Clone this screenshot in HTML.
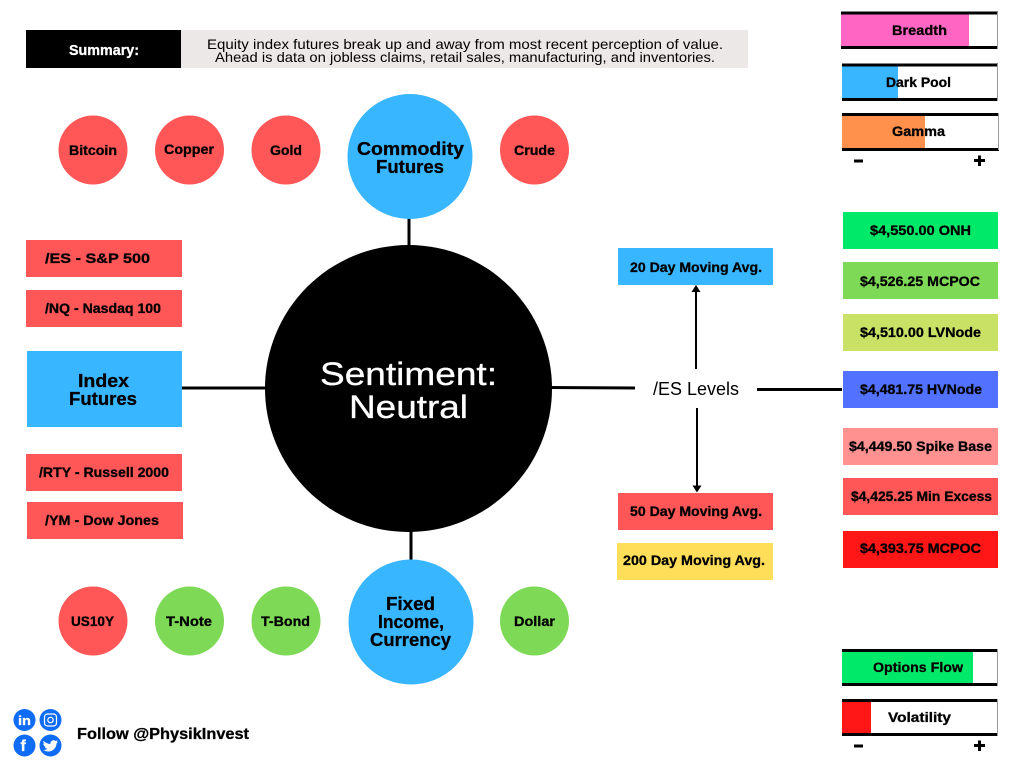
<!DOCTYPE html>
<html><head><meta charset="utf-8"><style>
html,body{margin:0;padding:0;background:#fff}
svg{display:block}
text{font-family:"Liberation Sans",sans-serif;font-weight:700;fill:#000;stroke:#000;stroke-width:.3px}
text.r{font-weight:400;stroke:none}
text.w{fill:#fff;stroke:#fff}
</style></head><body>
<svg width="1024" height="768" viewBox="0 0 1024 768" xmlns="http://www.w3.org/2000/svg">
<rect width="1024" height="768" fill="#fff"/>
<!-- summary -->
<rect x="26" y="30" width="156" height="38" fill="#000"/>
<rect x="181" y="30" width="567" height="38" fill="#ede8e8"/>
<text class="w" x="69" y="55" font-size="14.5" textLength="70" lengthAdjust="spacingAndGlyphs">Summary:</text>
<text class="r" x="207" y="49" font-size="14" textLength="516" lengthAdjust="spacingAndGlyphs">Equity index futures break up and away from most recent perception of value.</text>
<text class="r" x="215" y="62" font-size="14" textLength="500" lengthAdjust="spacingAndGlyphs">Ahead is data on jobless claims, retail sales, manufacturing, and inventories.</text>
<!-- connectors -->
<g stroke="#000" stroke-width="3" fill="none">
<line x1="409" y1="215" x2="409" y2="250"/>
<line x1="411" y1="530" x2="411" y2="565"/>
<line x1="182" y1="388" x2="270" y2="388"/>
<line x1="548" y1="387.500" x2="635" y2="388"/>
<line x1="757" y1="389.500" x2="842" y2="389.500"/>
</g>
<g stroke="#000" stroke-width="2">
<line x1="696" y1="290" x2="696" y2="369"/>
<line x1="697" y1="408" x2="697" y2="487"/>
</g>
<path d="M696 285l4.500 7h-9z"/>
<path d="M697 492.500l-4.500-7h9z"/>
<!-- circles -->
<circle cx="408.500" cy="388.500" r="143.500" fill="#000"/>
<circle cx="410" cy="156.500" r="62.500" fill="#38b6ff"/>
<circle cx="411" cy="622" r="62.500" fill="#38b6ff"/>
<g fill="#ff5757">
<circle cx="93" cy="150" r="34.500"/>
<circle cx="189.500" cy="150" r="34.500"/>
<circle cx="286" cy="150" r="34.500"/>
<circle cx="534.500" cy="150" r="34.500"/>
<circle cx="93" cy="621" r="34.500"/>
</g>
<g fill="#7ed957">
<circle cx="189.500" cy="621" r="34.500"/>
<circle cx="286" cy="621" r="34.500"/>
<circle cx="534.500" cy="621" r="34.500"/>
</g>
<text class="r w" x="320" y="385" font-size="32" textLength="177" lengthAdjust="spacingAndGlyphs">Sentiment:</text>
<text class="r w" x="349" y="418" font-size="32" textLength="119" lengthAdjust="spacingAndGlyphs">Neutral</text>
<text x="357" y="155" font-size="18.500" textLength="107" lengthAdjust="spacingAndGlyphs">Commodity</text>
<text x="376" y="173" font-size="18.500" textLength="68" lengthAdjust="spacingAndGlyphs">Futures</text>
<text x="386" y="610" font-size="18.500" textLength="49" lengthAdjust="spacingAndGlyphs">Fixed</text>
<text x="378" y="628" font-size="18.500" textLength="66" lengthAdjust="spacingAndGlyphs">Income,</text>
<text x="370" y="646" font-size="18.500" textLength="81" lengthAdjust="spacingAndGlyphs">Currency</text>
<g font-size="14">
<text x="69" y="155" textLength="48" lengthAdjust="spacingAndGlyphs">Bitcoin</text>
<text x="164" y="154" textLength="50" lengthAdjust="spacingAndGlyphs">Copper</text>
<text x="270" y="155" textLength="32" lengthAdjust="spacingAndGlyphs">Gold</text>
<text x="514" y="155" textLength="41" lengthAdjust="spacingAndGlyphs">Crude</text>
<text x="71" y="626" textLength="43" lengthAdjust="spacingAndGlyphs">US10Y</text>
<text x="166" y="626" textLength="46" lengthAdjust="spacingAndGlyphs">T-Note</text>
<text x="261" y="626" textLength="49" lengthAdjust="spacingAndGlyphs">T-Bond</text>
<text x="514" y="626" textLength="41" lengthAdjust="spacingAndGlyphs">Dollar</text>
</g>
<!-- left boxes -->
<g fill="#ff5757">
<rect x="26" y="240" width="156" height="37"/>
<rect x="26" y="290" width="156" height="37"/>
<rect x="26" y="454" width="156" height="37"/>
<rect x="27" y="502" width="156" height="37"/>
</g>
<rect x="27" y="351" width="155" height="76" fill="#38b6ff"/>
<text x="78" y="387" font-size="18.500" textLength="51" lengthAdjust="spacingAndGlyphs">Index</text>
<text x="69" y="405" font-size="18.500" textLength="68" lengthAdjust="spacingAndGlyphs">Futures</text>
<g font-size="14">
<text x="45" y="263" textLength="105" lengthAdjust="spacingAndGlyphs">/ES - S&amp;P 500</text>
<text x="45" y="313" textLength="116" lengthAdjust="spacingAndGlyphs">/NQ - Nasdaq 100</text>
<text x="39" y="477" textLength="130" lengthAdjust="spacingAndGlyphs">/RTY - Russell 2000</text>
<text x="45" y="525" textLength="114" lengthAdjust="spacingAndGlyphs">/YM - Dow Jones</text>
</g>
<!-- ES levels -->
<text class="r" x="653" y="395" font-size="18" textLength="86" lengthAdjust="spacingAndGlyphs">/ES Levels</text>
<rect x="618" y="248" width="155" height="37" fill="#38b6ff"/>
<rect x="618" y="493" width="155" height="37" fill="#ff5757"/>
<rect x="617" y="543" width="156" height="37" fill="#ffde59"/>
<g font-size="14">
<text x="630" y="272" textLength="132" lengthAdjust="spacingAndGlyphs">20 Day Moving Avg.</text>
<text x="630" y="516" textLength="132" lengthAdjust="spacingAndGlyphs">50 Day Moving Avg.</text>
<text x="623" y="565" textLength="142" lengthAdjust="spacingAndGlyphs">200 Day Moving Avg.</text>
</g>
<rect x="843" y="212" width="155" height="37" fill="#00e968"/>
<rect x="843" y="262" width="155" height="37" fill="#7ed957"/>
<rect x="843" y="314" width="155" height="37" fill="#c9e265"/>
<rect x="843" y="371" width="155" height="37" fill="#5271ff"/>
<rect x="843" y="428" width="155" height="37" fill="#ff9191"/>
<rect x="843" y="478" width="155" height="37" fill="#ff5757"/>
<rect x="843" y="531" width="155" height="37" fill="#ff1616"/>
<g font-size="14">
<text x="870" y="235" textLength="101" lengthAdjust="spacingAndGlyphs">$4,550.00 ONH</text>
<text x="860" y="286" textLength="120" lengthAdjust="spacingAndGlyphs">$4,526.25 MCPOC</text>
<text x="860" y="337" textLength="121" lengthAdjust="spacingAndGlyphs">$4,510.00 LVNode</text>
<text x="860" y="394" textLength="122" lengthAdjust="spacingAndGlyphs">$4,481.75 HVNode</text>
<text x="849" y="451" textLength="143" lengthAdjust="spacingAndGlyphs">$4,449.50 Spike Base</text>
<text x="851" y="501" textLength="141" lengthAdjust="spacingAndGlyphs">$4,425.25 Min Excess</text>
<text x="860" y="553" textLength="121" lengthAdjust="spacingAndGlyphs">$4,393.75 MCPOC</text>
</g>
<!-- gauges -->
<rect x="841" y="14" width="128" height="32" fill="#ff66c4"/>
<rect x="842" y="66" width="56" height="32" fill="#38b6ff"/>
<rect x="842" y="115" width="83" height="33" fill="#ff914d"/>
<rect x="842" y="652" width="131" height="32" fill="#00e968"/>
<rect x="842" y="702" width="29" height="32" fill="#ff1616"/>
<g fill="#000">
<rect x="841" y="11.500" width="157" height="3"/><rect x="841" y="46" width="157" height="3"/>
<rect x="842" y="63.500" width="156" height="3"/><rect x="842" y="98" width="156" height="3"/>
<rect x="842" y="113" width="157" height="3"/><rect x="842" y="148" width="157" height="3"/>
<rect x="842" y="649" width="156" height="3"/><rect x="842" y="683" width="156" height="3"/>
<rect x="842" y="699" width="156" height="3"/><rect x="842" y="733" width="156" height="3"/>
</g>
<g stroke="#999" stroke-width="1">
<line x1="997.500" y1="12" x2="997.500" y2="49"/>
<line x1="997.500" y1="64" x2="997.500" y2="101"/>
<line x1="998.500" y1="113" x2="998.500" y2="150"/>
<line x1="997.500" y1="649" x2="997.500" y2="686"/>
<line x1="997.500" y1="699" x2="997.500" y2="736"/>
</g>
<g font-size="14">
<text x="892" y="35" textLength="55" lengthAdjust="spacingAndGlyphs">Breadth</text>
<text x="886" y="87" textLength="65" lengthAdjust="spacingAndGlyphs">Dark Pool</text>
<text x="892" y="136" textLength="53" lengthAdjust="spacingAndGlyphs">Gamma</text>
<text x="873" y="672" textLength="90" lengthAdjust="spacingAndGlyphs">Options Flow</text>
<text x="888" y="722" textLength="63" lengthAdjust="spacingAndGlyphs">Volatility</text>
</g>
<g fill="#000">
<rect x="854" y="159.500" width="9" height="3"/>
<rect x="974" y="159" width="11" height="3"/><rect x="978" y="155.500" width="3" height="10.500"/>
<rect x="854" y="744.500" width="9" height="3"/>
<rect x="974" y="744" width="11" height="3"/><rect x="978" y="740.500" width="3" height="10.500"/>
</g>
<!-- socials -->
<g fill="#0e6cf5">
<circle cx="24.500" cy="720" r="11"/>
<circle cx="50.500" cy="720" r="11"/>
<circle cx="24.500" cy="745.500" r="11"/>
<circle cx="50.500" cy="745.500" r="11"/>
</g>
<text class="w" x="18" y="725" font-size="13" textLength="13" lengthAdjust="spacingAndGlyphs">in</text>
<rect x="44.500" y="714" width="12" height="12" rx="3" fill="none" stroke="#fff" stroke-width="1.200"/>
<circle cx="50.500" cy="720" r="2.700" fill="none" stroke="#fff" stroke-width="1.200"/>
<text class="w" x="20.500" y="751" font-size="16">f</text>
<path d="M43.500 741c2.500 2 5 3 7 3-.5-3 3-5 5-3l2-.7-1 1.800 1.500-.3c-.5.800-1 1.300-1.500 1.700 0 4-3.500 8-8 8-2 0-3.500-.5-5-1.500 1.500 0 3-.3 4-1.200-1.500 0-2.500-1-3-2l1.300 0c-1.500-.5-2.500-1.800-2.500-3.300l1.400.4c-1.300-1-1.700-2.500-1.200-3.900z" fill="#fff"/>
<text x="77" y="739" font-size="15.500" textLength="172" lengthAdjust="spacingAndGlyphs">Follow @PhysikInvest</text>
</svg>
</body></html>
